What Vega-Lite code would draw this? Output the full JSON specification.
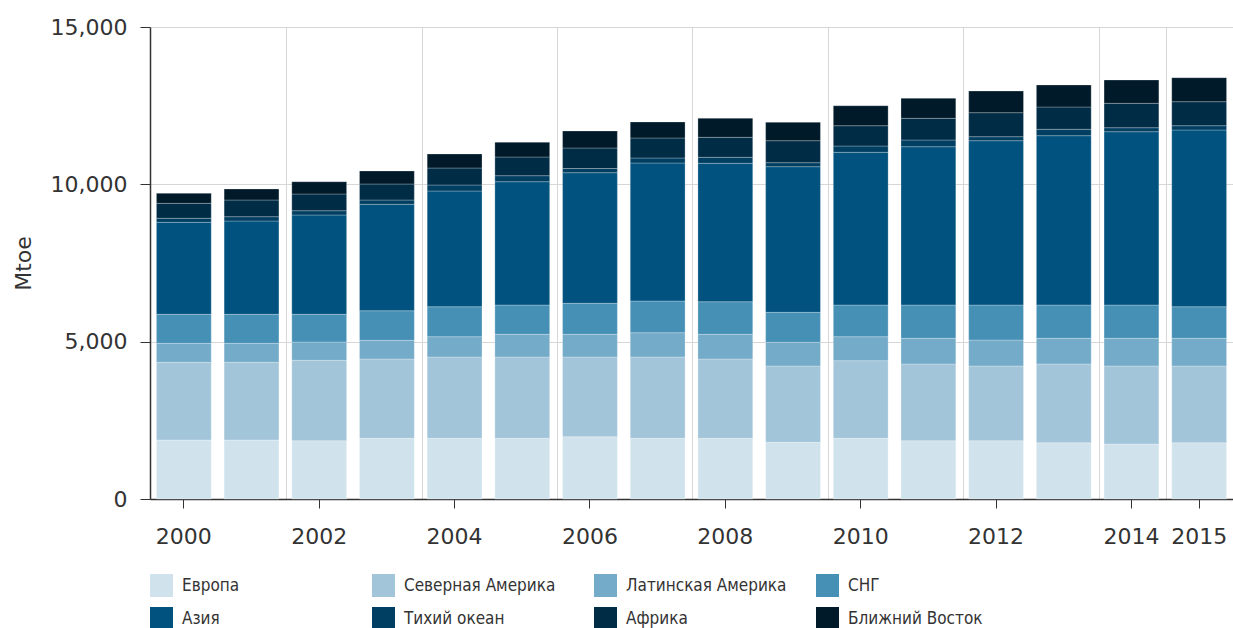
{
  "$schema": "https://vega.github.io/schema/vega-lite/v6.json",
  "width": 1083,
  "height": 472,
  "autosize": "none",
  "padding": {"left": 150, "top": 27, "right": 0, "bottom": 129},
  "background": "white",
  "config": {
    "view": {"stroke": null},
    "font": "DejaVu Sans",
    "axis": {"labelFont": "DejaVu Sans", "titleFont": "DejaVu Sans"}
  },
  "datasets": {
    "regions": [
      {"region": "Европа", "rank": 1},
      {"region": "Северная Америка", "rank": 2},
      {"region": "Латинская Америка", "rank": 3},
      {"region": "СНГ", "rank": 4},
      {"region": "Азия", "rank": 5},
      {"region": "Тихий океан", "rank": 6},
      {"region": "Африка", "rank": 7},
      {"region": "Ближний Восток", "rank": 8}
    ],
    "energy": [
      {"year": "2000", "region": "Европа", "value": 1875},
      {"year": "2000", "region": "Северная Америка", "value": 2469},
      {"year": "2000", "region": "Латинская Америка", "value": 604},
      {"year": "2000", "region": "СНГ", "value": 922},
      {"year": "2000", "region": "Азия", "value": 2924},
      {"year": "2000", "region": "Тихий океан", "value": 127},
      {"year": "2000", "region": "Африка", "value": 476},
      {"year": "2000", "region": "Ближний Восток", "value": 318},
      {"year": "2001", "region": "Европа", "value": 1875},
      {"year": "2001", "region": "Северная Америка", "value": 2469},
      {"year": "2001", "region": "Латинская Америка", "value": 604},
      {"year": "2001", "region": "СНГ", "value": 922},
      {"year": "2001", "region": "Азия", "value": 2965},
      {"year": "2001", "region": "Тихий океан", "value": 137},
      {"year": "2001", "region": "Африка", "value": 530},
      {"year": "2001", "region": "Ближний Восток", "value": 350},
      {"year": "2002", "region": "Европа", "value": 1853},
      {"year": "2002", "region": "Северная Америка", "value": 2555},
      {"year": "2002", "region": "Латинская Америка", "value": 581},
      {"year": "2002", "region": "СНГ", "value": 881},
      {"year": "2002", "region": "Азия", "value": 3156},
      {"year": "2002", "region": "Тихий океан", "value": 136},
      {"year": "2002", "region": "Африка", "value": 531},
      {"year": "2002", "region": "Ближний Восток", "value": 391},
      {"year": "2003", "region": "Европа", "value": 1929},
      {"year": "2003", "region": "Северная Америка", "value": 2520},
      {"year": "2003", "region": "Латинская Америка", "value": 594},
      {"year": "2003", "region": "СНГ", "value": 941},
      {"year": "2003", "region": "Азия", "value": 3382},
      {"year": "2003", "region": "Тихий океан", "value": 136},
      {"year": "2003", "region": "Африка", "value": 509},
      {"year": "2003", "region": "Ближний Восток", "value": 413},
      {"year": "2004", "region": "Европа", "value": 1929},
      {"year": "2004", "region": "Северная Америка", "value": 2584},
      {"year": "2004", "region": "Латинская Америка", "value": 645},
      {"year": "2004", "region": "СНГ", "value": 953},
      {"year": "2004", "region": "Азия", "value": 3677},
      {"year": "2004", "region": "Тихий океан", "value": 191},
      {"year": "2004", "region": "Африка", "value": 540},
      {"year": "2004", "region": "Ближний Восток", "value": 445},
      {"year": "2005", "region": "Европа", "value": 1929},
      {"year": "2005", "region": "Северная Америка", "value": 2584},
      {"year": "2005", "region": "Латинская Америка", "value": 721},
      {"year": "2005", "region": "СНГ", "value": 931},
      {"year": "2005", "region": "Азия", "value": 3919},
      {"year": "2005", "region": "Тихий океан", "value": 191},
      {"year": "2005", "region": "Африка", "value": 594},
      {"year": "2005", "region": "Ближний Восток", "value": 468},
      {"year": "2006", "region": "Европа", "value": 1980},
      {"year": "2006", "region": "Северная Америка", "value": 2533},
      {"year": "2006", "region": "Латинская Америка", "value": 721},
      {"year": "2006", "region": "СНГ", "value": 985},
      {"year": "2006", "region": "Азия", "value": 4151},
      {"year": "2006", "region": "Тихий океан", "value": 133},
      {"year": "2006", "region": "Африка", "value": 652},
      {"year": "2006", "region": "Ближний Восток", "value": 540},
      {"year": "2007", "region": "Европа", "value": 1929},
      {"year": "2007", "region": "Северная Америка", "value": 2584},
      {"year": "2007", "region": "Латинская Америка", "value": 772},
      {"year": "2007", "region": "СНГ", "value": 1007},
      {"year": "2007", "region": "Азия", "value": 4386},
      {"year": "2007", "region": "Тихий океан", "value": 159},
      {"year": "2007", "region": "Африка", "value": 636},
      {"year": "2007", "region": "Ближний Восток", "value": 508},
      {"year": "2008", "region": "Европа", "value": 1929},
      {"year": "2008", "region": "Северная Америка", "value": 2520},
      {"year": "2008", "region": "Латинская Америка", "value": 785},
      {"year": "2008", "region": "СНГ", "value": 1036},
      {"year": "2008", "region": "Азия", "value": 4399},
      {"year": "2008", "region": "Тихий океан", "value": 190},
      {"year": "2008", "region": "Африка", "value": 636},
      {"year": "2008", "region": "Ближний Восток", "value": 604},
      {"year": "2009", "region": "Европа", "value": 1802},
      {"year": "2009", "region": "Северная Америка", "value": 2425},
      {"year": "2009", "region": "Латинская Америка", "value": 753},
      {"year": "2009", "region": "СНГ", "value": 953},
      {"year": "2009", "region": "Азия", "value": 4628},
      {"year": "2009", "region": "Тихий океан", "value": 127},
      {"year": "2009", "region": "Африка", "value": 699},
      {"year": "2009", "region": "Ближний Восток", "value": 584},
      {"year": "2010", "region": "Европа", "value": 1929},
      {"year": "2010", "region": "Северная Америка", "value": 2466},
      {"year": "2010", "region": "Латинская Америка", "value": 763},
      {"year": "2010", "region": "СНГ", "value": 1007},
      {"year": "2010", "region": "Азия", "value": 4853},
      {"year": "2010", "region": "Тихий океан", "value": 200},
      {"year": "2010", "region": "Африка", "value": 645},
      {"year": "2010", "region": "Ближний Восток", "value": 636},
      {"year": "2011", "region": "Европа", "value": 1853},
      {"year": "2011", "region": "Северная Америка", "value": 2437},
      {"year": "2011", "region": "Латинская Америка", "value": 817},
      {"year": "2011", "region": "СНГ", "value": 1058},
      {"year": "2011", "region": "Азия", "value": 5031},
      {"year": "2011", "region": "Тихий океан", "value": 213},
      {"year": "2011", "region": "Африка", "value": 689},
      {"year": "2011", "region": "Ближний Восток", "value": 636},
      {"year": "2012", "region": "Европа", "value": 1853},
      {"year": "2012", "region": "Северная Америка", "value": 2374},
      {"year": "2012", "region": "Латинская Америка", "value": 826},
      {"year": "2012", "region": "СНГ", "value": 1112},
      {"year": "2012", "region": "Азия", "value": 5222},
      {"year": "2012", "region": "Тихий океан", "value": 127},
      {"year": "2012", "region": "Африка", "value": 763},
      {"year": "2012", "region": "Ближний Восток", "value": 689},
      {"year": "2013", "region": "Европа", "value": 1789},
      {"year": "2013", "region": "Северная Америка", "value": 2501},
      {"year": "2013", "region": "Латинская Америка", "value": 817},
      {"year": "2013", "region": "СНГ", "value": 1058},
      {"year": "2013", "region": "Азия", "value": 5381},
      {"year": "2013", "region": "Тихий океан", "value": 203},
      {"year": "2013", "region": "Африка", "value": 709},
      {"year": "2013", "region": "Ближний Восток", "value": 699},
      {"year": "2014", "region": "Европа", "value": 1748},
      {"year": "2014", "region": "Северная Америка", "value": 2479},
      {"year": "2014", "region": "Латинская Америка", "value": 880},
      {"year": "2014", "region": "СНГ", "value": 1058},
      {"year": "2014", "region": "Азия", "value": 5508},
      {"year": "2014", "region": "Тихий океан", "value": 127},
      {"year": "2014", "region": "Африка", "value": 775},
      {"year": "2014", "region": "Ближний Восток", "value": 741},
      {"year": "2015", "region": "Европа", "value": 1789},
      {"year": "2015", "region": "Северная Америка", "value": 2438},
      {"year": "2015", "region": "Латинская Америка", "value": 880},
      {"year": "2015", "region": "СНГ", "value": 1004},
      {"year": "2015", "region": "Азия", "value": 5616},
      {"year": "2015", "region": "Тихий океан", "value": 136},
      {"year": "2015", "region": "Африка", "value": 763},
      {"year": "2015", "region": "Ближний Восток", "value": 763}
    ]
  },
  "data": {"name": "energy"},
  "transform": [
    {"lookup": "region", "from": {"data": {"name": "regions"}, "key": "region", "fields": ["rank"]}}
  ],
  "layer": [
    {
      "mark": {"type": "bar", "opacity": 0},
      "encoding": {
        "x": {
          "field": "year",
          "type": "ordinal",
          "scale": {"type": "band", "paddingInner": 0.19, "paddingOuter": 0.095},
          "axis": {
            "orient": "bottom",
            "title": null,
            "labels": false,
            "ticks": false,
            "domain": false,
            "grid": true,
            "gridColor": "#d6d6d6",
            "gridWidth": 1,
            "bandPosition": -0.09,
            "values": ["2002", "2004", "2006", "2008", "2010", "2012", "2014", "2015"]
          }
        }
      }
    },
    {
      "mark": {"type": "bar", "stroke": "#ffffff", "strokeWidth": 1, "strokeOpacity": 0.25},
      "encoding": {
        "x": {
          "field": "year",
          "type": "ordinal",
          "scale": {"type": "band", "paddingInner": 0.19, "paddingOuter": 0.095},
          "axis": {
            "orient": "bottom",
            "title": null,
            "labelAngle": 0,
            "values": ["2000", "2002", "2004", "2006", "2008", "2010", "2012", "2014", "2015"],
            "grid": false,
            "domainColor": "#333333",
            "domainWidth": 1.5,
            "tickColor": "#333333",
            "tickSize": 9,
            "labelFontSize": 22,
            "labelColor": "#333333",
            "labelPadding": 18
          }
        },
        "y": {
          "field": "value",
          "type": "quantitative",
          "stack": "zero",
          "scale": {"domain": [0, 15000], "nice": false},
          "axis": {
            "title": "Mtoe",
            "values": [0, 5000, 10000, 15000],
            "format": ",.0f",
            "grid": true,
            "gridColor": "#d6d6d6",
            "domainColor": "#333333",
            "domainWidth": 1.5,
            "tickColor": "#333333",
            "tickSize": 10,
            "labelFontSize": 22,
            "labelColor": "#333333",
            "labelPadding": 13,
            "titleFontSize": 22,
            "titleFontWeight": "normal",
            "titleColor": "#333333",
            "titlePadding": 15
          }
        },
        "order": {"field": "rank", "type": "quantitative", "sort": "ascending"},
        "color": {
          "field": "region",
          "type": "nominal",
          "sort": ["Европа", "Северная Америка", "Латинская Америка", "СНГ", "Азия", "Тихий океан", "Африка", "Ближний Восток"],
          "scale": {
            "domain": ["Европа", "Северная Америка", "Латинская Америка", "СНГ", "Азия", "Тихий океан", "Африка", "Ближний Восток"],
            "range": ["#d0e3ed", "#a3c5d9", "#74abc8", "#4690b6", "#01527e", "#003f62", "#002c46", "#001a29"]
          },
          "legend": {
            "title": null,
            "orient": "none",
            "legendX": 0,
            "legendY": 547,
            "direction": "horizontal",
            "columns": 4,
            "gridAlign": "all",
            "columnPadding": 29,
            "rowPadding": 10,
            "symbolType": "square",
            "symbolSize": 529,
            "symbolStrokeWidth": 0,
            "symbolOpacity": 1,
            "labelFont": "DejaVu Sans Condensed, DejaVu Sans",
            "labelFontSize": 17,
            "labelColor": "#333333",
            "labelOffset": 9,
            "labelLimit": 300,
            "padding": 0
          }
        }
      }
    }
  ],
  "resolve": {"axis": {"x": "independent"}}
}
